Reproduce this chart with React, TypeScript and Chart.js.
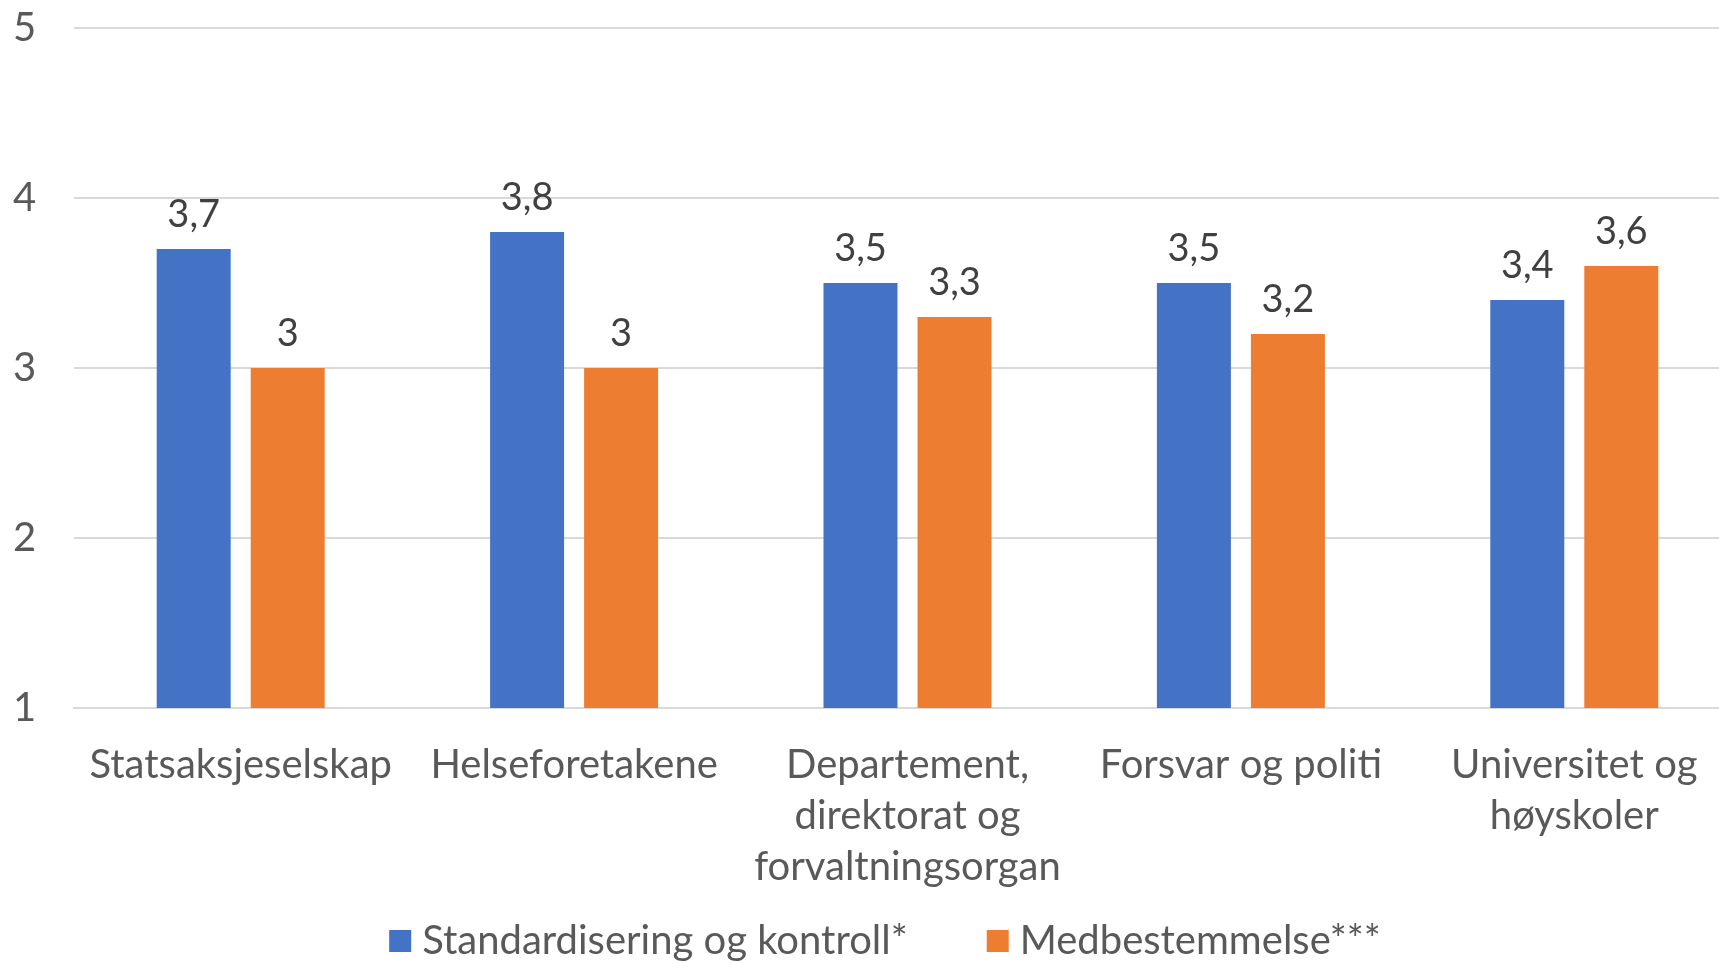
import React, { useEffect, useRef } from "react";
import { Chart, registerables } from "chart.js";

Chart.register(...registerables);

const categories: (string | string[])[] = [
  "Statsaksjeselskap",
  "Helseforetakene",
  ["Departement,", "direktorat og", "forvaltningsorgan"],
  "Forsvar og politi",
  ["Universitet og", "høyskoler"],
];
const standardisering = [3.7, 3.8, 3.5, 3.5, 3.4];
const medbestemmelse = [3.0, 3.0, 3.3, 3.2, 3.6];
const seriesNames = ["Standardisering og kontroll*", "Medbestemmelse***"];
const seriesColors = ["#4472C4", "#ED7D31"];
const yTicks = [1, 2, 3, 4, 5];

const FONT = "Lato, 'Open Sans', sans-serif";

const valueLabels = {
  id: "valueLabels",
  afterDatasetsDraw(chart: any) {
    const ctx = chart.ctx;
    ctx.save();
    ctx.font = `38px ${FONT}`;
    ctx.fillStyle = "#404040";
    ctx.textAlign = "center";
    ctx.textBaseline = "middle";
    chart.data.datasets.forEach((ds: any, i: number) => {
      const meta = chart.getDatasetMeta(i);
      meta.data.forEach((bar: any, j: number) => {
        const v = ds.data[j] as number;
        const txt = Number.isInteger(v) ? String(v) : v.toFixed(1).replace(".", ",");
        ctx.fillText(txt, bar.x, bar.y - 34);
      });
    });
    ctx.restore();
  },
};

// Bottom legend drawn with Excel-like spacing
const bottomLegend = {
  id: "bottomLegend",
  afterDraw(chart: any) {
    const ctx = chart.ctx;
    const box = 22;
    const boxGap = 11;
    const itemGap = 79;
    const cx = 885;
    const cy = 941;
    ctx.save();
    ctx.font = `40px ${FONT}`;
    const items = chart.data.datasets.map((ds: any) => ({
      text: ds.label as string,
      color: ds.backgroundColor as string,
      w: ctx.measureText(ds.label).width,
    }));
    const total =
      items.reduce((s: number, it: any) => s + box + boxGap + it.w, 0) +
      itemGap * (items.length - 1);
    let x = cx - total / 2;
    ctx.textAlign = "left";
    ctx.textBaseline = "middle";
    items.forEach((it: any) => {
      ctx.fillStyle = it.color;
      ctx.fillRect(x, cy - box / 2, box, box);
      x += box + boxGap;
      ctx.fillStyle = "#595959";
      ctx.fillText(it.text, x, cy);
      x += it.w + itemGap;
    });
    ctx.restore();
  },
};

export default function App() {
  const ref = useRef<HTMLCanvasElement>(null);
  useEffect(() => {
    document.body.style.margin = "0";
    const chart = new Chart(ref.current!, {
      type: "bar",
      data: {
        labels: categories,
        datasets: [
          { label: seriesNames[0], data: standardisering, backgroundColor: seriesColors[0] },
          { label: seriesNames[1], data: medbestemmelse, backgroundColor: seriesColors[1] },
        ],
      },
      options: {
        animation: false,
        responsive: false,
        maintainAspectRatio: false,
        layout: {
          padding: { top: 28, right: 0, bottom: 70, left: 13 },
        },
        datasets: { bar: { categoryPercentage: 0.564, barPercentage: 0.787 } },
        scales: {
          x: {
            afterFit: (scale: any) => {
              scale.height = 185;
            },
            grid: { display: false },
            border: { display: true, color: "#d9d9d9", width: 2 },
            ticks: {
              color: "#595959",
              font: { family: FONT, size: 40, lineHeight: 1.27 },
              padding: 24,
              maxRotation: 0,
              autoSkip: false,
            },
          },
          y: {
            min: 1,
            max: 5,
            afterBuildTicks: (scale: any) => {
              scale.ticks = yTicks.map((v) => ({ value: v }));
            },
            afterFit: (scale: any) => {
              scale.width = 61;
            },
            grid: { color: "#d9d9d9", lineWidth: 2, drawTicks: false },
            border: { display: false },
            ticks: {
              color: "#595959",
              font: { family: FONT, size: 40 },
              padding: 0,
              crossAlign: "far",
            },
          },
        },
        plugins: {
          legend: { display: false },
          tooltip: { enabled: false },
        },
      },
      plugins: [valueLabels, bottomLegend],
    });
    return () => chart.destroy();
  }, []);
  return (
    <div style={{ width: 1719, height: 963, overflow: "hidden" }}>
      <canvas ref={ref} width={1741} height={963} style={{ display: "block" }} />
    </div>
  );
}
